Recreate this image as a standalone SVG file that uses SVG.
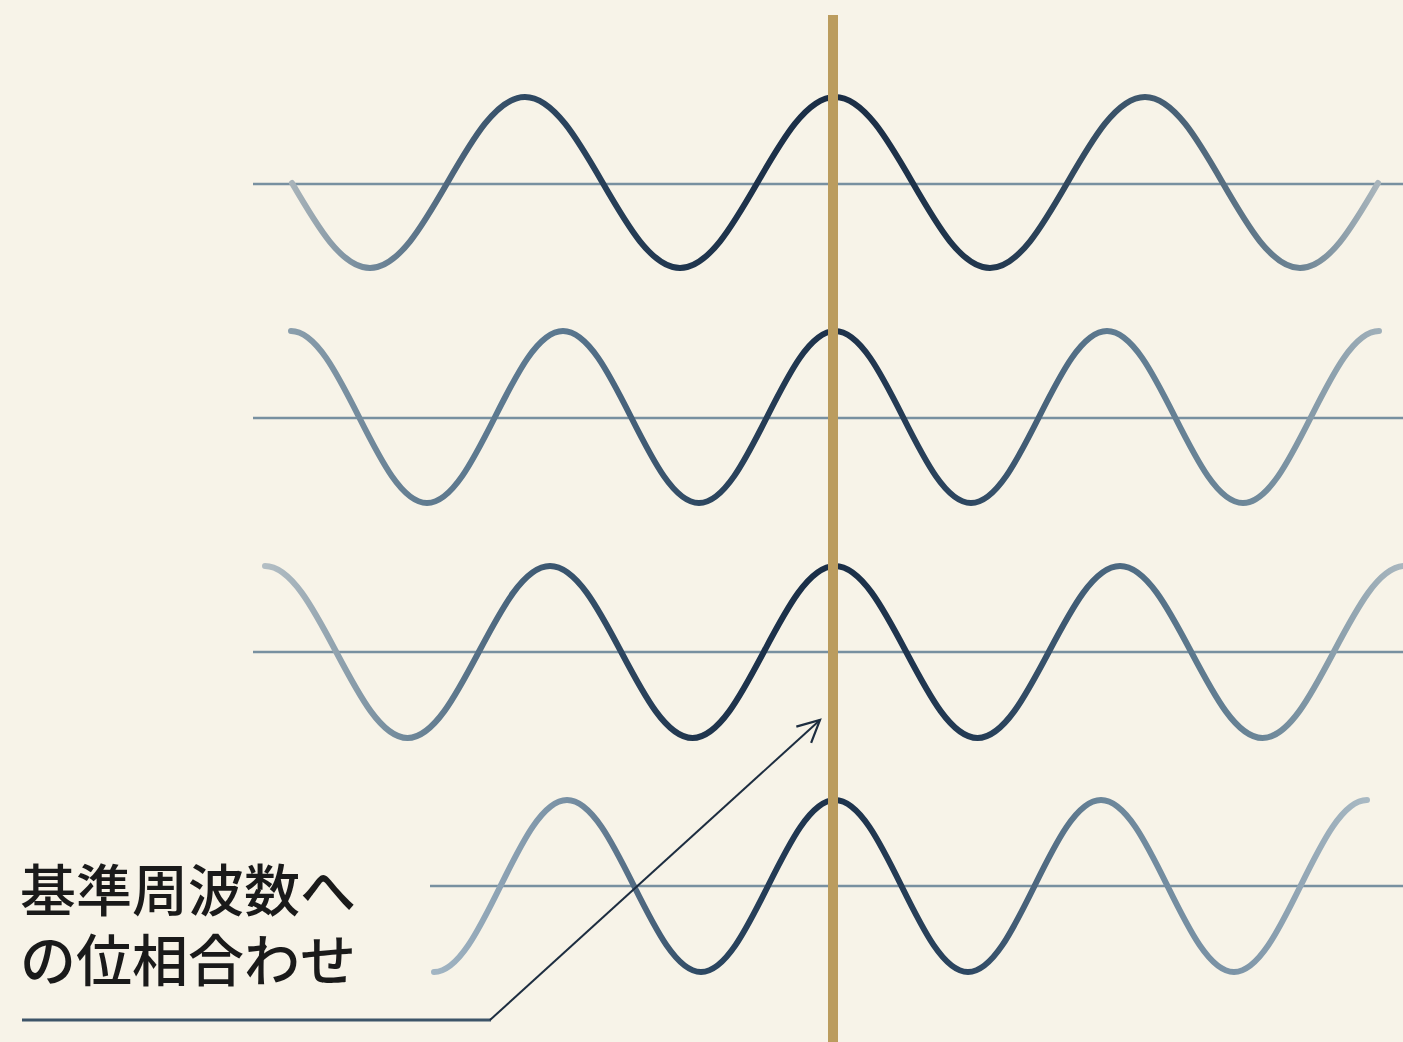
<svg xmlns="http://www.w3.org/2000/svg" width="1403" height="1042" viewBox="0 0 1403 1042">
<style>
.axis{stroke:#7890a0;stroke-width:2.5;fill:none}
.wave{fill:none;stroke-width:6;stroke-linecap:round}
.lbl{font-family:"Noto Sans CJK JP","Noto Sans",sans-serif;font-size:56px;font-weight:500;fill:#1a1a1a}
.ptr{fill:none;stroke:#1d2d40;stroke-width:2;stroke-linejoin:round}
</style>
<defs>
<linearGradient id="g1" gradientUnits="userSpaceOnUse" x1="253" y1="0" x2="1403" y2="0">
<stop offset="0.032" stop-color="#a9b4ba"/><stop offset="0.102" stop-color="#71889a"/><stop offset="0.237" stop-color="#2e4862"/><stop offset="0.371" stop-color="#20364f"/><stop offset="0.506" stop-color="#1a2d45"/><stop offset="0.641" stop-color="#22384f"/><stop offset="0.776" stop-color="#40596f"/><stop offset="0.910" stop-color="#6d8494"/><stop offset="0.978" stop-color="#a9b5bc"/>
</linearGradient>
<linearGradient id="g2" gradientUnits="userSpaceOnUse" x1="253" y1="0" x2="1403" y2="0">
<stop offset="0.033" stop-color="#8a9eac"/><stop offset="0.151" stop-color="#5f7a8f"/><stop offset="0.270" stop-color="#5b7890"/><stop offset="0.388" stop-color="#2e4862"/><stop offset="0.506" stop-color="#1c3049"/><stop offset="0.624" stop-color="#2e4862"/><stop offset="0.743" stop-color="#5f7b91"/><stop offset="0.861" stop-color="#6c8698"/><stop offset="0.979" stop-color="#9fafb9"/>
</linearGradient>
<linearGradient id="g3" gradientUnits="userSpaceOnUse" x1="253" y1="0" x2="1403" y2="0">
<stop offset="0.010" stop-color="#b3bec4"/><stop offset="0.134" stop-color="#6f889a"/><stop offset="0.258" stop-color="#3b5771"/><stop offset="0.382" stop-color="#20364f"/><stop offset="0.506" stop-color="#1a2e47"/><stop offset="0.630" stop-color="#243c56"/><stop offset="0.754" stop-color="#4d6a82"/><stop offset="0.877" stop-color="#6b8698"/><stop offset="1" stop-color="#a9b7bf"/>
</linearGradient>
<linearGradient id="g4" gradientUnits="userSpaceOnUse" x1="253" y1="0" x2="1403" y2="0">
<stop offset="0.157" stop-color="#a2b5c3"/><stop offset="0.273" stop-color="#7890a4"/><stop offset="0.390" stop-color="#2d4863"/><stop offset="0.506" stop-color="#1c314a"/><stop offset="0.622" stop-color="#2d4762"/><stop offset="0.737" stop-color="#6b869a"/><stop offset="0.853" stop-color="#7c94a7"/><stop offset="0.969" stop-color="#a9b9c3"/>
</linearGradient>
<marker id="arr" markerUnits="userSpaceOnUse" markerWidth="40" markerHeight="40" refX="30" refY="20" orient="auto" viewBox="0 0 40 40">
<path d="M8,9 L30,20 L8,31" fill="none" stroke="#1d2d40" stroke-width="2.2" stroke-linejoin="miter"/>
</marker>
</defs>
<rect width="1403" height="1042" fill="#f7f3e8"/>

<g id="row1">
<line class="axis" x1="253" y1="184" x2="1403" y2="184"/>
<path class="wave" stroke="url(#g1)" d="M292,183 C317.7,227.2 341.9,268 370,268 C426.3,268 468.7,97 525,97 C581.3,97 623.7,268 680,268 C736.3,268 778.7,97 835,97 C891.3,97 933.7,268 990,268 C1046.3,268 1088.7,97 1145,97 C1201.3,97 1243.7,268 1300,268 C1328.1,268 1352.3,227.2 1378,183"/>
</g>
<g id="row2">
<line class="axis" x1="253" y1="418" x2="1403" y2="418"/>
<path class="wave" stroke="url(#g2)" d="M291,331 C340.4,331 377.6,503 427,503 C476.4,503 513.6,331 563,331 C612.4,331 649.6,503 699,503 C748.4,503 785.6,331 835,331 C884.4,331 921.6,503 971,503 C1020.4,503 1057.6,331 1107,331 C1156.4,331 1193.6,503 1243,503 C1292.4,503 1329.6,331 1379,331"/>
</g>
<g id="row3">
<line class="axis" x1="253" y1="652" x2="1403" y2="652"/>
<path class="wave" stroke="url(#g3)" d="M265,566 C316.8,566 355.7,738 407.5,738 C459.3,738 498.2,566 550,566 C601.8,566 640.7,738 692.5,738 C744.3,738 783.2,566 835,566 C886.8,566 925.7,738 977.5,738 C1029.3,738 1068.2,566 1120,566 C1171.8,566 1210.7,738 1262.5,738 C1314.3,738 1353.2,566 1405,566"/>
</g>
<g id="row4">
<line class="axis" x1="430" y1="886" x2="1403" y2="886"/>
<path class="wave" stroke="url(#g4)" d="M434,972 C482.3,972 518.7,800 567,800 C615.3,800 652.7,972 701,972 C749.3,972 786.7,800 835,800 C883.3,800 919.7,972 968,972 C1016.3,972 1052.7,800 1101,800 C1149.3,800 1185.7,972 1234,972 C1282.3,972 1318.7,800 1367,800"/>
</g>

<g id="reference-line">
<rect x="828" y="15" width="10" height="1027" fill="#bb9c5e"/>
</g>

<g id="connectors">
<line x1="22" y1="1020" x2="491" y2="1020" stroke="#3d5468" stroke-width="3"/>
<path class="ptr" d="M490,1020 L820,720" marker-end="url(#arr)"/>
</g>

<g id="label">
<text class="lbl" x="20" y="911">基準周波数へ<tspan x="20" dy="70">の位相合わせ</tspan></text>
</g>
</svg>
